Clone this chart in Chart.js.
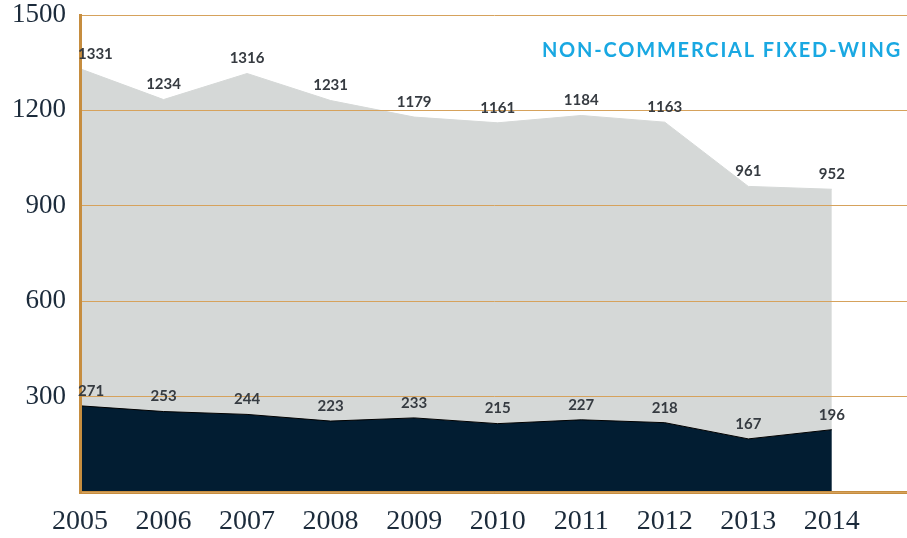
<!DOCTYPE html>
<html>
<head>
<meta charset="utf-8">
<script src="https://cdn.jsdelivr.net/npm/chart.js@4/dist/chart.umd.min.js"></script>
<style>
  html, body { margin: 0; padding: 0; background: #fff; }
  #wrap { width: 907px; height: 538px; position: relative; }
</style>
</head>
<body>
<div id="wrap"><canvas id="chart"></canvas></div>
<script>
// chart data
const years = [2005, 2006, 2007, 2008, 2009, 2010, 2011, 2012, 2013, 2014];
const upperValues = [1331, 1234, 1316, 1231, 1179, 1161, 1184, 1163, 961, 952];
const lowerValues = [271, 253, 244, 223, 233, 215, 227, 218, 167, 196];
const yTicks = [0, 300, 600, 900, 1200, 1500];
const chartTitle = 'NON-COMMERCIAL FIXED-WING';

const axisColor = '#c68d3f';
const gridColor = '#d6a25c';
const labelColor = '#1c2b3b';

// value labels above each point + title
const valueLabels = {
    id: 'valueLabels',
    afterDraw(chart) {
        const ctx = chart.ctx;
        ctx.save();
        ctx.font = 'bold 15px Lato';
        ctx.fillStyle = '#363b41';
        ctx.textBaseline = 'middle';
        chart.data.datasets.forEach((ds, i) => {
            const meta = chart.getDatasetMeta(i);
            meta.data.forEach((pt, j) => {
                ctx.textAlign = j === 0 ? 'left' : 'center';
                const x = j === 0 ? pt.x - 2 : pt.x;
                ctx.fillText(String(ds.data[j].y), x, pt.y - 15);
            });
        });

        // title in the top right corner
        ctx.font = 'bold 20px Lato';
        ctx.fillStyle = '#19a8e2';
        ctx.textAlign = 'right';
        ctx.textBaseline = 'alphabetic';
        if ('letterSpacing' in ctx) ctx.letterSpacing = '1.8px';
        ctx.fillText(chartTitle, 902, 57);
        ctx.restore();
    }
};

const ctx = document.getElementById('chart').getContext('2d');
new Chart(ctx, {
    type: 'line',
    data: {
        datasets: [{
            label: 'Lower',
            data: years.map((y, i) => ({ x: y, y: lowerValues[i] })),
            borderColor: '#000000',
            borderWidth: 1,
            backgroundColor: '#021d32',
            fill: 'origin',
            pointRadius: 0,
            tension: 0,
            order: 1
        }, {
            label: 'Upper',
            data: years.map((y, i) => ({ x: y, y: upperValues[i] })),
            borderColor: '#d5d8d7',
            borderWidth: 1,
            backgroundColor: '#d5d8d7',
            fill: 'origin',
            pointRadius: 0,
            tension: 0,
            order: 2
        }]
    },
    options: {
        responsive: true,
        maintainAspectRatio: false,
        animation: false,
        layout: { padding: 0 },
        plugins: {
            legend: { display: false },
            tooltip: { enabled: false }
        },
        scales: {
            x: {
                type: 'linear',
                min: 2005,
                max: 2014.9,
                afterFit: (scale) => {
                    scale.height = 46;
                    scale.paddingLeft = 0;
                    scale.paddingRight = 0;
                },
                grid: { display: false, drawTicks: false },
                border: { display: true, color: axisColor, width: 3, z: 1 },
                ticks: {
                    stepSize: 1,
                    includeBounds: false,
                    padding: 13,
                    color: labelColor,
                    font: { family: 'Liberation Serif', size: 28 },
                    callback: (v) => String(v)
                }
            },
            y: {
                min: 0,
                max: 1500,
                afterFit: (scale) => {
                    scale.width = 80;
                    scale.paddingTop = 15;
                    scale.paddingBottom = 0;
                },
                afterBuildTicks: (scale) => { scale.ticks = yTicks.map(v => ({ value: v })); },
                grid: { color: gridColor, lineWidth: 1, drawTicks: false, z: 1 },
                border: { display: true, color: axisColor, width: 3, z: 1 },
                ticks: {
                    padding: 14,
                    color: labelColor,
                    font: { family: 'Liberation Serif', size: 27 },
                    callback: (v) => v === 0 ? '' : String(v)
                }
            }
        }
    },
    plugins: [valueLabels]
});
</script>
</body>
</html>
